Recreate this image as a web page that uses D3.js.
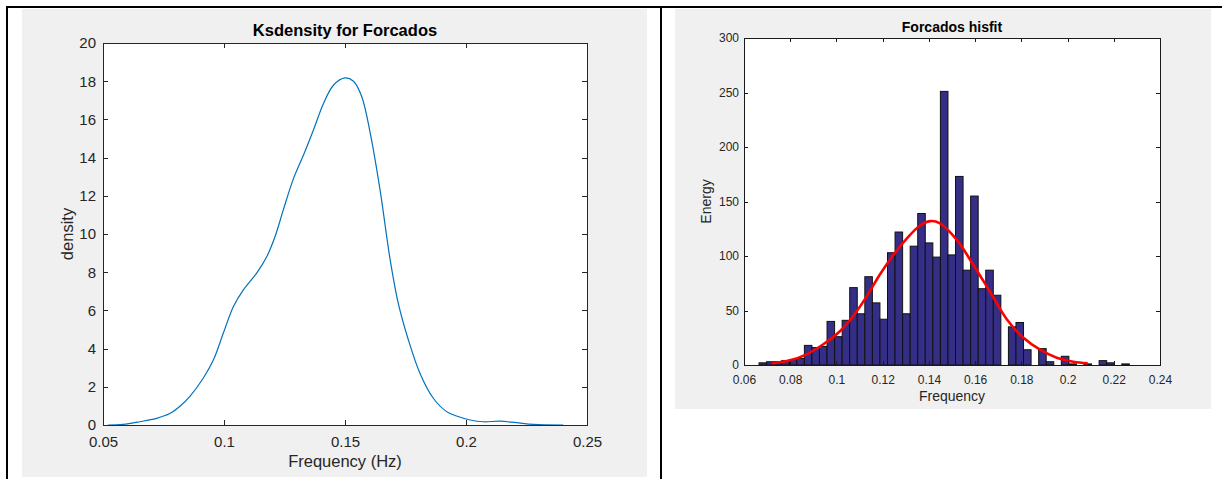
<!DOCTYPE html>
<html><head><meta charset="utf-8">
<script src="https://cdn.jsdelivr.net/npm/d3@7"></script>
<style>
body{margin:0;background:#fff;}
svg text{font-family:"Liberation Sans", Arial, Helvetica, sans-serif;}
</style>
</head><body>
<svg id="chart" width="1222" height="479"></svg>
<script>
// ---------- Left panel: kernel density ----------
const kdeFreq = [0.052,0.0583,0.0652,0.0721,0.0776,0.0818,0.0859,0.0914,0.0956,0.0997,0.1039,0.108,0.1135,0.1177,0.1211,0.1246,0.1287,0.1329,0.137,0.1412,0.1453,0.15,0.1535,0.1569,0.1604,0.1645,0.1686,0.172,0.1762,0.181,0.1865,0.192,0.1961,0.2017,0.2072,0.214,0.2209,0.2278,0.2402];
const kdeDensity = [0,0.03,0.17,0.35,0.6,0.98,1.5,2.45,3.4,4.8,6.2,7.07,7.95,8.82,9.87,11.3,12.9,14.15,15.46,16.86,17.8,18.17,18.0,17.2,15.3,12.3,8.7,6.38,4.45,2.7,1.4,0.7,0.47,0.26,0.17,0.2,0.12,0.03,0];
const kdeXTicks = [0.05,0.1,0.15,0.2,0.25];
const kdeYTicks = [0,2,4,6,8,10,12,14,16,18,20];

// ---------- Right panel: histogram with normal fit ----------
const histFirstEdge = 0.0665;
const histBinWidth = 0.00327;
const histCounts = [2,3,3,4,5,6,18,16,17,40,26,41,71,47,81,57,42,103,122,47,109,139,112,99,251,101,173,87,155,70,87,64,0,35,39,14,0,15,3,0,8,1,0,1,0,4,2,0,1];
const fitFreq = [0.0722,0.0799,0.0871,0.0943,0.1015,0.1073,0.1131,0.1188,0.1246,0.1304,0.1362,0.1405,0.1448,0.152,0.1592,0.1665,0.1737,0.1809,0.1881,0.1953,0.2025,0.2087];
const fitEnergy = [1.5,4.3,9.8,19,31,45,63,83,101,116,128,132,130,115,92,67,42,25,14,6.7,3,1.5];
const histXTicks = [0.06,0.08,0.1,0.12,0.14,0.16,0.18,0.2,0.22,0.24];
const histYTicks = [0,50,100,150,200,250,300];

const svg = d3.select("#chart");
const fmt = d3.format("~g");

// frame lines
svg.append("rect").attr("x",6).attr("y",6).attr("width",1216).attr("height",2).attr("fill","#000");
svg.append("rect").attr("x",6).attr("y",6).attr("width",2).attr("height",473).attr("fill","#000");
svg.append("rect").attr("x",660).attr("y",6).attr("width",2).attr("height",473).attr("fill","#000");

// gray figure backgrounds
svg.append("rect").attr("x",22).attr("y",9).attr("width",625).attr("height",468).attr("fill","#f0f0f0");
svg.append("rect").attr("x",675).attr("y",9).attr("width",536).attr("height",400).attr("fill","#f0f0f0");

function makeStyle(o){
  return sel => {
    sel.attr("font-family",null).attr("font-size",null);
    sel.selectAll("path,line").attr("stroke",o.axisColor).attr("stroke-width",1).attr("shape-rendering","crispEdges");
    sel.selectAll("text").attr("fill",o.textColor).style("font-size",o.tickFont+"px");
  };
}
function drawAxes(g, x, y, xt, yt, o) {
  const [x0,x1] = x.range(), [y0,y1] = y.range();
  const style = makeStyle(o);
  g.append("g").attr("transform",`translate(0,${y0})`)
    .call(d3.axisBottom(x).tickValues(xt).tickFormat(fmt).tickSizeInner(-o.tick).tickSizeOuter(0).tickPadding(o.padX)).call(style);
  g.append("g").attr("transform",`translate(0,${y1})`)
    .call(d3.axisTop(x).tickValues(xt).tickFormat("").tickSizeInner(-o.tick).tickSizeOuter(0)).call(style);
  g.append("g").attr("transform",`translate(${x0},0)`)
    .call(d3.axisLeft(y).tickValues(yt).tickFormat(fmt).tickSizeInner(-o.tick).tickSizeOuter(0).tickPadding(o.padY)).call(style);
  g.append("g").attr("transform",`translate(${x1},0)`)
    .call(d3.axisRight(y).tickValues(yt).tickFormat("").tickSizeInner(-o.tick).tickSizeOuter(0)).call(style);
}
function plotBg(g, x, y){
  const [x0,x1] = x.range(), [y0,y1] = y.range();
  g.append("rect").attr("x",x0).attr("y",y1).attr("width",x1-x0).attr("height",y0-y1).attr("fill","#fff");
}

// ----- left chart -----
const gL = svg.append("g");
const xL = d3.scaleLinear().domain([0.05,0.25]).range([103,587]);
const yL = d3.scaleLinear().domain([0,20]).range([425,43]);
plotBg(gL, xL, yL);
gL.append("path")
  .datum(kdeFreq.map((f,i)=>[f,kdeDensity[i]]))
  .attr("fill","none").attr("stroke","#0072bd").attr("stroke-width",1.2)
  .attr("d", d3.line().x(d=>xL(d[0])).y(d=>yL(d[1])).curve(d3.curveCatmullRom.alpha(0.5)));
drawAxes(gL, xL, yL, kdeXTicks, kdeYTicks, {tick:5, tickFont:15, padX:11, padY:7, axisColor:"#262626", textColor:"#262626"});
gL.append("text").attr("x",345).attr("y",36).attr("text-anchor","middle")
  .style("font-size","16.5px").style("font-weight","bold").attr("fill","#000").text("Ksdensity for Forcados");
gL.append("text").attr("x",345).attr("y",467).attr("text-anchor","middle")
  .style("font-size","16.5px").attr("fill","#262626").text("Frequency (Hz)");
gL.append("text").attr("transform","translate(73,234) rotate(-90)").attr("text-anchor","middle")
  .style("font-size","16.5px").attr("fill","#262626").text("density");

// ----- right chart -----
const gR = svg.append("g");
const xR = d3.scaleLinear().domain([0.06,0.24]).range([744,1160]);
const yR = d3.scaleLinear().domain([0,300]).range([365,38]);
plotBg(gR, xR, yR);
const bins = histCounts.map((c,i)=>({x0:histFirstEdge+i*histBinWidth, x1:histFirstEdge+(i+1)*histBinWidth, c}));
gR.append("g").selectAll("rect").data(bins.filter(d=>d.c>0)).join("rect")
  .attr("x",d=>xR(d.x0)).attr("width",d=>xR(d.x1)-xR(d.x0))
  .attr("y",d=>yR(d.c)).attr("height",d=>yR(0)-yR(d.c))
  .attr("fill","#352e86").attr("stroke","#111").attr("stroke-width",1);
gR.append("path")
  .datum(fitFreq.map((f,i)=>[f,fitEnergy[i]]))
  .attr("fill","none").attr("stroke","#ff0000").attr("stroke-width",2.6)
  .attr("d", d3.line().x(d=>xR(d[0])).y(d=>yR(d[1])).curve(d3.curveCatmullRom.alpha(0.5)));
drawAxes(gR, xR, yR, histXTicks, histYTicks, {tick:4, tickFont:12, padX:10, padY:5, axisColor:"#1a1a1a", textColor:"#262626"});
gR.append("text").attr("x",952).attr("y",31.5).attr("text-anchor","middle")
  .style("font-size","14px").style("font-weight","bold").attr("fill","#000").text("Forcados hisfit");
gR.append("text").attr("x",952).attr("y",401).attr("text-anchor","middle")
  .style("font-size","14px").attr("fill","#262626").text("Frequency");
gR.append("text").attr("transform","translate(711,201.5) rotate(-90)").attr("text-anchor","middle")
  .style("font-size","14px").attr("fill","#262626").text("Energy");
</script>
</body></html>
